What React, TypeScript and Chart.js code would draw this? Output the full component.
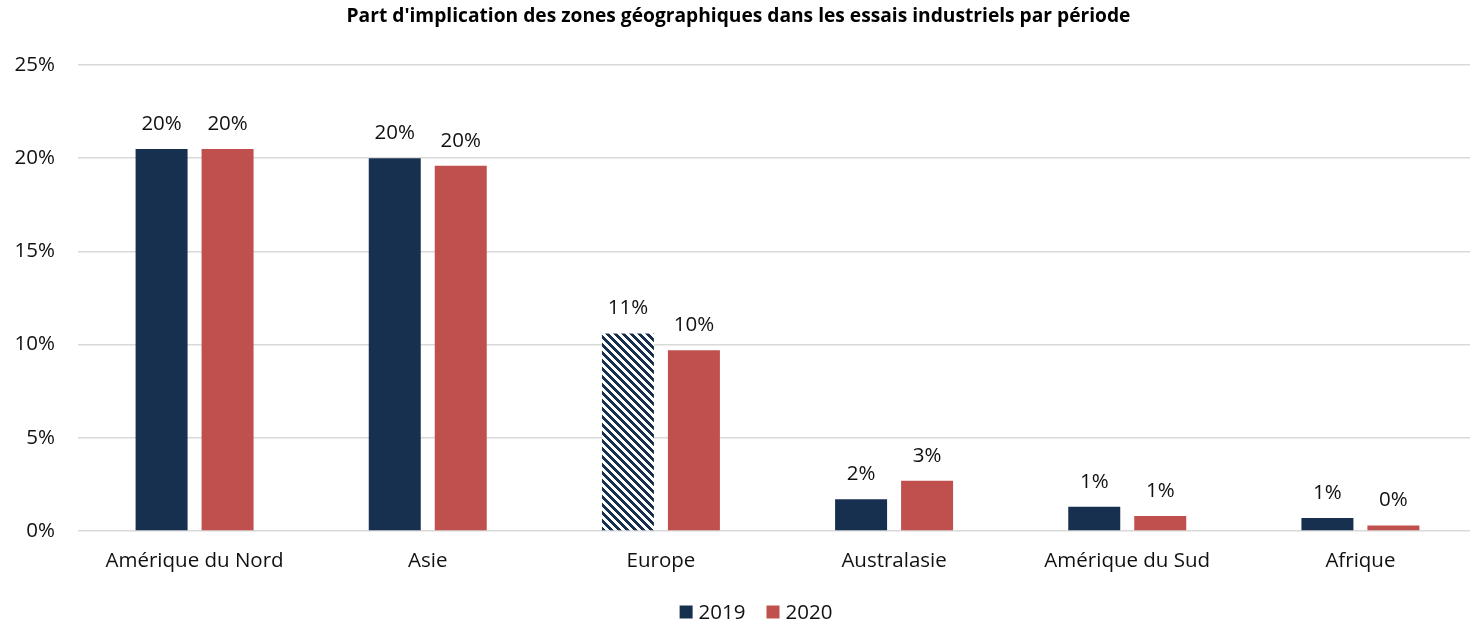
import React, { useEffect, useRef } from "react";
import { Chart, registerables } from "chart.js";

Chart.register(...registerables);

const categories = ["Amérique du Nord", "Asie", "Europe", "Australasie", "Amérique du Sud", "Afrique"];
const series2019 = [20.5, 20.0, 10.6, 1.7, 1.3, 0.7];
const series2020 = [20.5, 19.6, 9.7, 2.7, 0.8, 0.3];
const labels2019 = ["20%", "20%", "11%", "2%", "1%", "1%"];
const labels2020 = ["20%", "20%", "10%", "3%", "1%", "0%"];
const hatchedIndex2019 = [2];
const yTicks = [0, 5, 10, 15, 20, 25];
const seriesNames = ["2019", "2020"];

const NAVY = "#17304F";
const RED = "#C0504D";
const TEXT = "#111111";
const FONT = "'Open Sans', 'Liberation Sans', sans-serif";
const FS = 20.5;
const CANVAS_W = 1477;
const CANVAS_H = 624;

function makeHatch(): CanvasPattern | string {
  const c = document.createElement("canvas");
  c.width = 8;
  c.height = 8;
  const ctx = c.getContext("2d");
  if (!ctx) return NAVY;
  ctx.fillStyle = "#ffffff";
  ctx.fillRect(0, 0, 8, 8);
  ctx.fillStyle = NAVY;
  for (let y = 0; y < 8; y++) {
    for (let x = 0; x < 8; x++) {
      if ((((x - y) % 8) + 8) % 8 < 4) ctx.fillRect(x, y, 1, 1);
    }
  }
  return ctx.createPattern(c, "repeat") || NAVY;
}

const valueLabels = {
  id: "valueLabels",
  afterDatasetsDraw(chart: any) {
    const ctx = chart.ctx;
    const texts = [labels2019, labels2020];
    ctx.save();
    ctx.font = `${FS}px ${FONT}`;
    ctx.fillStyle = TEXT;
    ctx.textAlign = "center";
    ctx.textBaseline = "middle";
    chart.data.datasets.forEach((_: any, di: number) => {
      const meta = chart.getDatasetMeta(di);
      meta.data.forEach((bar: any, i: number) => {
        ctx.fillText(texts[di][i], bar.x, bar.y - 25);
      });
    });
    ctx.restore();
  },
};

const bottomLegend = {
  id: "bottomLegend",
  afterDraw(chart: any) {
    const ctx = chart.ctx;
    const colors = [NAVY, RED];
    const box = 13;
    const gapBoxText = 6;
    const gapItems = 21;
    ctx.save();
    ctx.font = `${FS}px ${FONT}`;
    const widths = seriesNames.map((n) => box + gapBoxText + ctx.measureText(n).width);
    const total = widths.reduce((a, b) => a + b, 0) + gapItems * (seriesNames.length - 1);
    const cx = 756;
    const cy = 612;
    let x = cx - total / 2;
    ctx.textBaseline = "middle";
    ctx.textAlign = "left";
    seriesNames.forEach((n, i) => {
      ctx.fillStyle = colors[i];
      ctx.fillRect(x, cy - box / 2, box, box);
      ctx.fillStyle = TEXT;
      ctx.fillText(n, x + box + gapBoxText, cy + 1);
      x += widths[i] + gapItems;
    });
    ctx.restore();
  },
};

export default function App() {
  const ref = useRef<HTMLCanvasElement | null>(null);
  useEffect(() => {
    document.body.style.margin = "0";
    const hatch = makeHatch();
    const bg2019 = series2019.map((_, i) => (hatchedIndex2019.includes(i) ? hatch : NAVY));
    const chart = new Chart(ref.current as HTMLCanvasElement, {
      type: "bar",
      data: {
        labels: categories,
        datasets: [
          { label: seriesNames[0], data: series2019, backgroundColor: bg2019 as any, borderWidth: 0 },
          { label: seriesNames[1], data: series2020, backgroundColor: RED, borderWidth: 0 },
        ],
      },
      options: {
        animation: false,
        responsive: false,
        maintainAspectRatio: false,
        layout: { padding: { left: 0, right: 0, top: 0, bottom: 0 } },
        datasets: { bar: { categoryPercentage: 0.566, barPercentage: 0.788 } },
        scales: {
          x: {
            grid: { display: false, drawTicks: false },
            border: { display: false },
            ticks: { font: { family: FONT, size: FS }, color: TEXT, padding: 18 },
            afterFit: (s: any) => {
              s.height = 93;
            },
          },
          y: {
            min: 0,
            max: 25,
            afterBuildTicks: (s: any) => {
              s.ticks = yTicks.map((v) => ({ value: v }));
            },
            grid: { color: "#D9D9D9", lineWidth: 1.5, drawTicks: false },
            border: { display: false },
            ticks: {
              font: { family: FONT, size: FS },
              color: TEXT,
              padding: 23,
              callback: (v: any) => `${v}%`,
            },
            afterFit: (s: any) => {
              s.width = 78;
            },
          },
        },
        plugins: {
          title: {
            display: true,
            text: "Part d'implication des zones géographiques dans les essais industriels par période",
            font: { family: FONT, size: 19.2, weight: "bold" },
            color: "#000000",
            padding: { top: 5.5, bottom: 36.5 },
          },
          legend: { display: false },
          tooltip: { enabled: false },
        },
      },
      plugins: [valueLabels, bottomLegend],
    });
    return () => chart.destroy();
  }, []);
  return (
    <div style={{ width: 1470, height: CANVAS_H, position: "relative", overflow: "hidden" }}>
      <canvas ref={ref} width={CANVAS_W} height={CANVAS_H} style={{ display: "block" }} />
    </div>
  );
}
